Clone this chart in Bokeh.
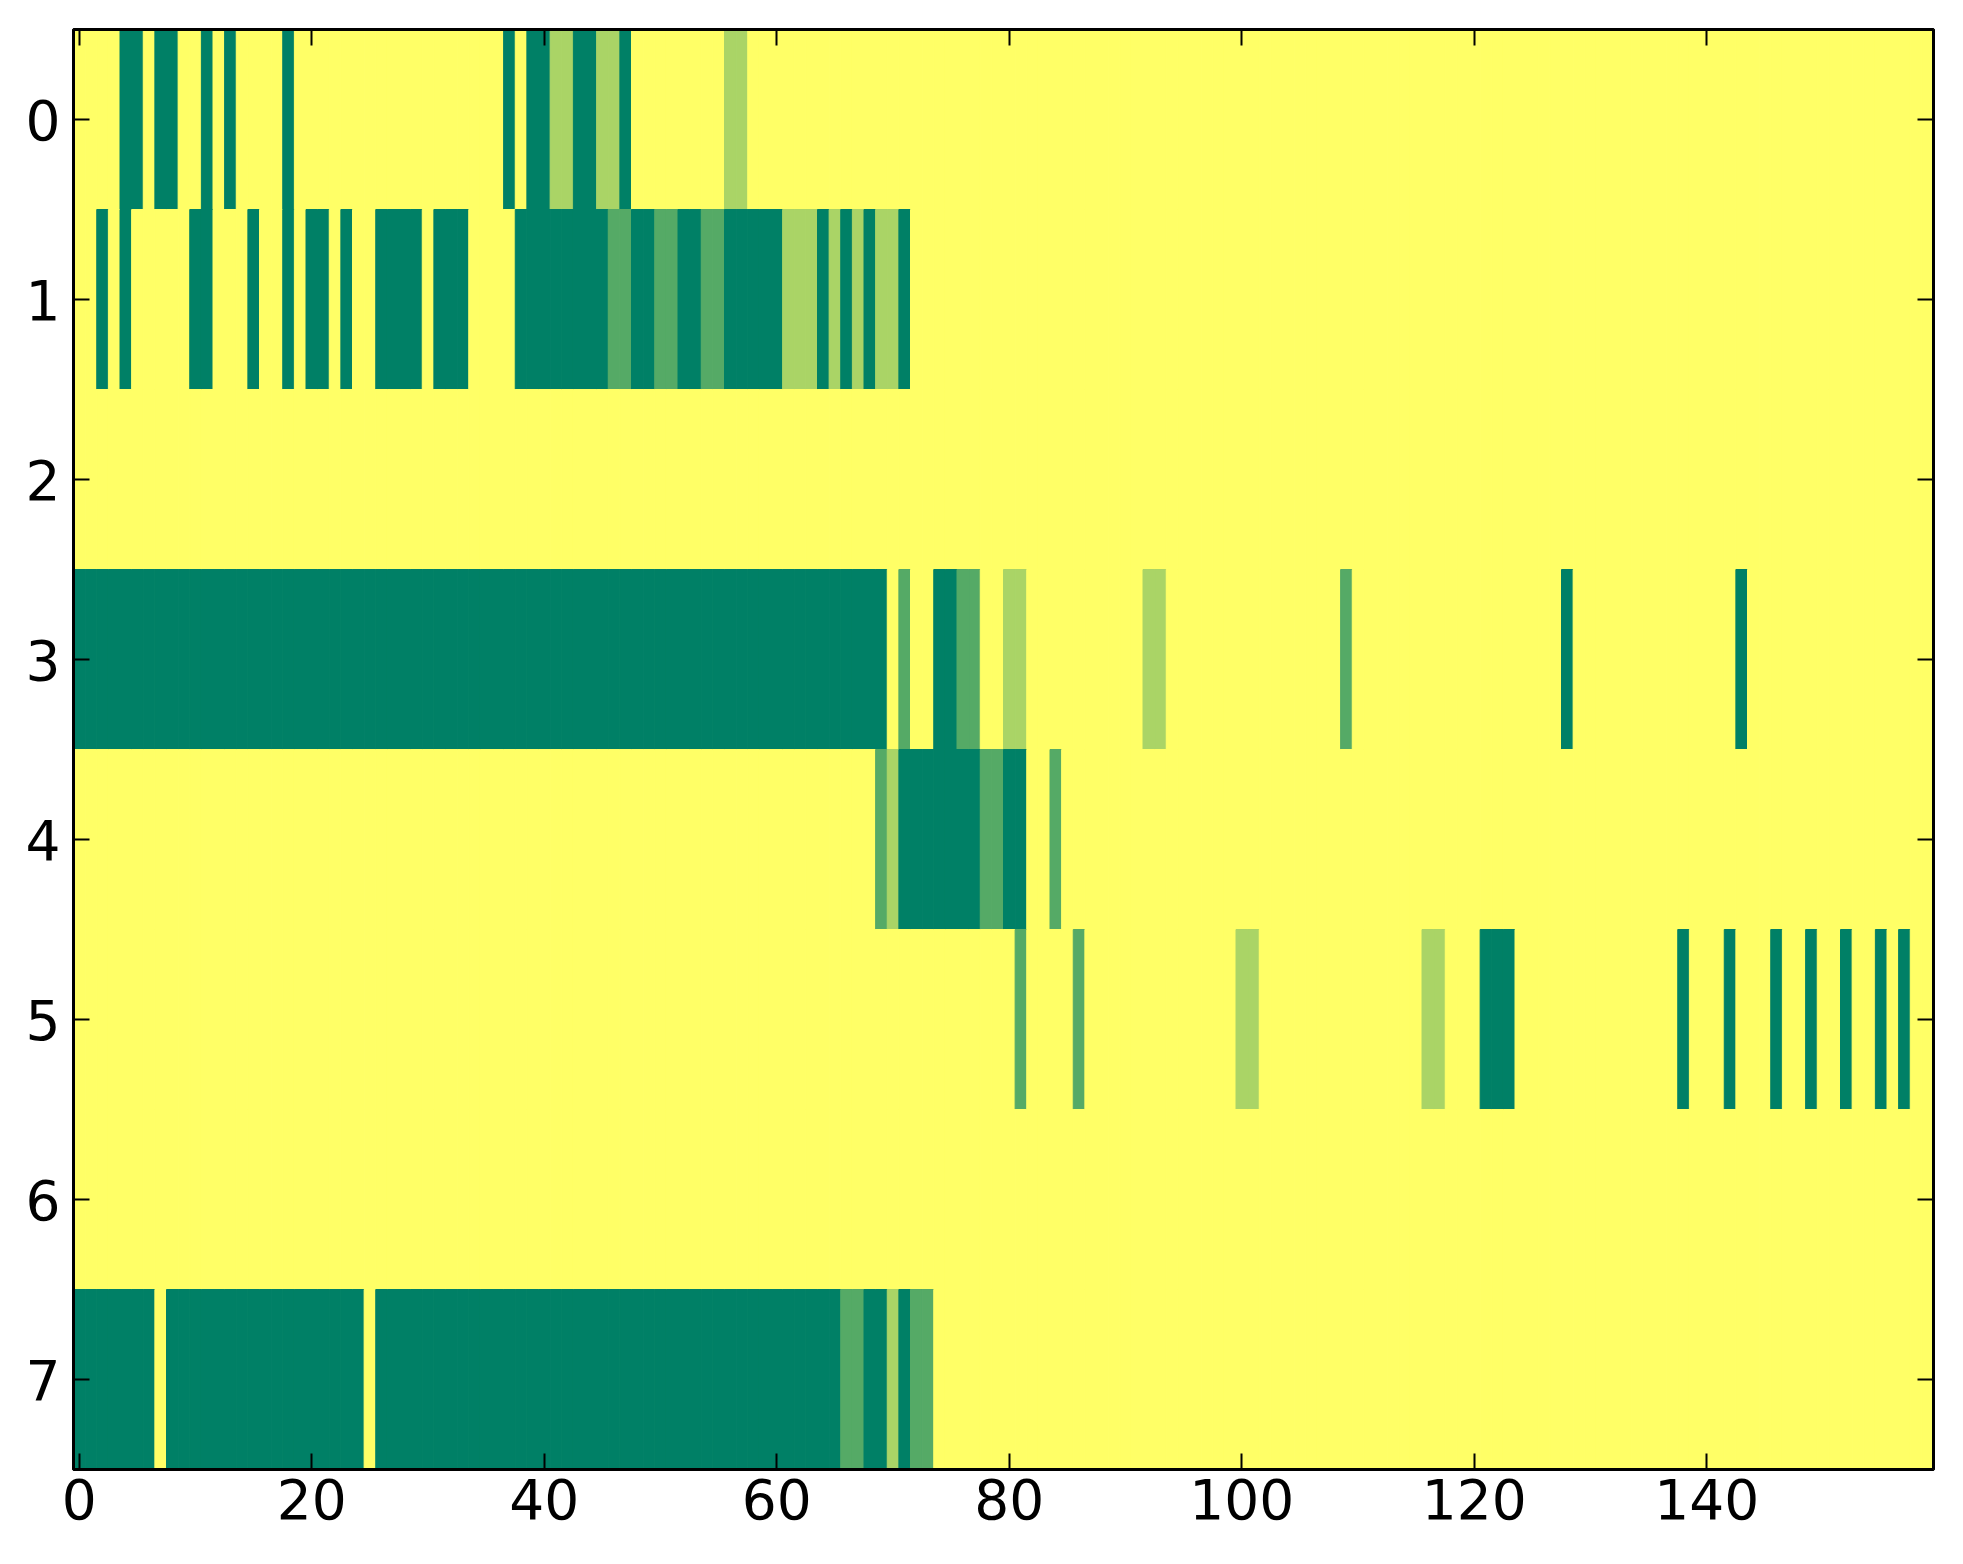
import numpy as np
from bokeh.plotting import figure
from bokeh.models import Range1d, LinearAxis, FixedTicker, ColumnDataSource
from bokeh.transform import linear_cmap
from bokeh.embed import file_html
from bokeh.resources import INLINE

# ---- data -------------------------------------------------------------
N_ROWS = 8
N_COLS = 160
BACKGROUND_VALUE = 3          # yellow cells

# non-background spans per row: (first_col, last_col, value)
row0_spans = [(4, 5, 0), (7, 8, 0), (11, 11, 0), (13, 13, 0), (18, 18, 0),
              (37, 37, 0), (39, 40, 0), (41, 42, 2), (43, 44, 0), (45, 46, 2),
              (47, 47, 0), (56, 57, 2)]
row1_spans = [(2, 2, 0), (4, 4, 0), (10, 11, 0), (15, 15, 0), (18, 18, 0),
              (20, 21, 0), (23, 23, 0), (26, 29, 0), (31, 33, 0), (38, 45, 0),
              (46, 47, 1), (48, 49, 0), (50, 51, 1), (52, 53, 0), (54, 55, 1),
              (56, 60, 0), (61, 63, 2), (64, 64, 0), (65, 65, 2), (66, 66, 0),
              (67, 67, 2), (68, 68, 0), (69, 70, 2), (71, 71, 0)]
row2_spans = []
row3_spans = [(0, 69, 0), (71, 71, 1), (74, 75, 0), (76, 77, 1), (80, 81, 2),
              (92, 93, 2), (109, 109, 1), (128, 128, 0), (143, 143, 0)]
row4_spans = [(69, 69, 1), (70, 70, 2), (71, 77, 0), (78, 79, 1), (80, 81, 0),
              (84, 84, 1)]
row5_spans = [(81, 81, 1), (86, 86, 1), (100, 101, 2), (116, 117, 2),
              (121, 123, 0), (138, 138, 0), (142, 142, 0), (146, 146, 0),
              (149, 149, 0), (152, 152, 0), (155, 155, 0), (157, 157, 0)]
row6_spans = []
row7_spans = [(0, 6, 0), (8, 24, 0), (26, 65, 0), (66, 67, 1), (68, 69, 0),
              (70, 70, 2), (71, 71, 0), (72, 73, 1)]

x_ticks = [0, 20, 40, 60, 80, 100, 120, 140]
y_ticks = [0, 1, 2, 3, 4, 5, 6, 7]

SUMMER = ["#008066", "#55aa66", "#aad466", "#ffff66"]

# ---- grid -------------------------------------------------------------
all_spans = [row0_spans, row1_spans, row2_spans, row3_spans,
             row4_spans, row5_spans, row6_spans, row7_spans]
grid = np.full((N_ROWS, N_COLS), BACKGROUND_VALUE, dtype=int)
for r, spans in enumerate(all_spans):
    for a, b, v in spans:
        grid[r, a:b + 1] = v

rows, cols = np.indices(grid.shape)
src = ColumnDataSource(dict(x=cols.ravel(), y=rows.ravel(), v=grid.ravel()))

# ---- figure -----------------------------------------------------------
p = figure(frame_width=1860, frame_height=1440,
           x_range=Range1d(-0.5, N_COLS - 0.5),
           y_range=Range1d(N_ROWS - 0.5, -0.5),
           output_backend="svg", toolbar_location=None,
           min_border_left=73, min_border_top=29,
           min_border_right=28, min_border_bottom=90,
           background_fill_color="white", border_fill_color="white")
p.grid.visible = False

cmap = linear_cmap("v", SUMMER, 0, 3)
p.rect(x="x", y="y", width=1, height=1, source=src,
       fill_color=cmap, line_color=cmap, line_width=1)

p.outline_line_color = "black"
p.outline_line_width = 3

p.add_layout(LinearAxis(), "above")
p.add_layout(LinearAxis(), "right")

FONT = "DejaVu Sans"
for ax in p.xaxis + p.yaxis:
    ax.major_tick_in = 16
    ax.major_tick_out = 0
    ax.minor_tick_in = 0
    ax.minor_tick_out = 0
    ax.major_tick_line_width = 2
    ax.major_tick_line_color = "black"
    ax.axis_line_color = "black"
    ax.axis_line_width = 3
    ax.major_label_text_font = FONT
    ax.major_label_text_color = "black"
    ax.major_label_text_font_size = "55px"

for ax in p.xaxis:
    ax.ticker = FixedTicker(ticks=x_ticks)
for ax in p.yaxis:
    ax.ticker = FixedTicker(ticks=y_ticks)

p.below[0].major_label_standoff = 9
p.left[0].major_label_standoff = 13
for ax in (p.above[0], p.right[0]):
    ax.major_label_text_font_size = "0px"
    ax.major_label_standoff = 0
    ax.major_label_text_color = None

open("out.html", "w").write(file_html(p, INLINE))
